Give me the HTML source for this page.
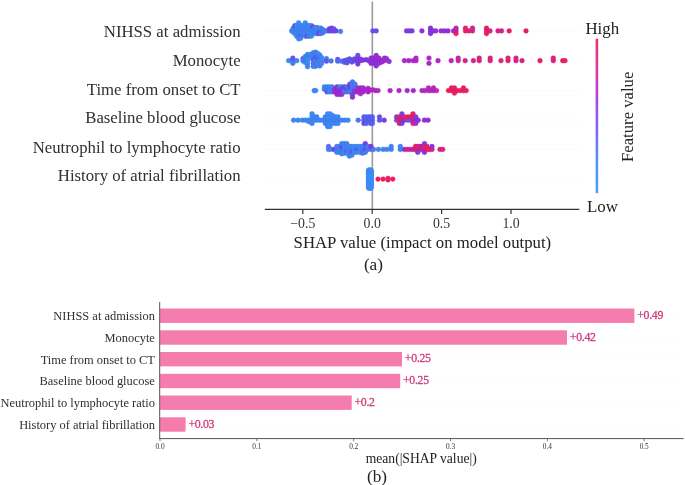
<!DOCTYPE html>
<html><head><meta charset="utf-8"><style>
html,body{margin:0;padding:0;background:#fff;width:685px;height:485px;overflow:hidden}
svg{display:block;font-family:"Liberation Serif", serif}
</style></head><body>
<svg width="685" height="485" viewBox="0 0 685 485">
<defs><linearGradient id="cb" x1="0" y1="1" x2="0" y2="0"><stop offset="0" stop-color="#4aa2f6"/><stop offset="0.22" stop-color="#5a8ef4"/><stop offset="0.45" stop-color="#8a62ea"/><stop offset="0.62" stop-color="#b244dc"/><stop offset="0.8" stop-color="#dc38a4"/><stop offset="1" stop-color="#ee3070"/></linearGradient><filter id="bl" x="-5%" y="-5%" width="110%" height="110%"><feGaussianBlur stdDeviation="0.2"/></filter><filter id="gb" x="0" y="0" width="685" height="485" filterUnits="userSpaceOnUse"><feGaussianBlur stdDeviation="0.4"/></filter></defs>
<rect width="685" height="485" fill="#fff"/>
<g filter="url(#gb)">
<line x1="265" y1="30.9" x2="580" y2="30.9" stroke="#e2e2e2" stroke-width="0.8" stroke-dasharray="0.8 3.2"/>
<line x1="265" y1="60.7" x2="580" y2="60.7" stroke="#e2e2e2" stroke-width="0.8" stroke-dasharray="0.8 3.2"/>
<line x1="265" y1="90.6" x2="580" y2="90.6" stroke="#e2e2e2" stroke-width="0.8" stroke-dasharray="0.8 3.2"/>
<line x1="265" y1="120.2" x2="580" y2="120.2" stroke="#e2e2e2" stroke-width="0.8" stroke-dasharray="0.8 3.2"/>
<line x1="265" y1="149.4" x2="580" y2="149.4" stroke="#e2e2e2" stroke-width="0.8" stroke-dasharray="0.8 3.2"/>
<line x1="265" y1="179.1" x2="580" y2="179.1" stroke="#e2e2e2" stroke-width="0.8" stroke-dasharray="0.8 3.2"/>
<line x1="372.35" y1="1.5" x2="372.35" y2="209.3" stroke="#999" stroke-width="1.6"/>
<g filter="url(#bl)"><circle cx="291.7" cy="30.9" r="2.40" fill="#3f88f5" stroke="#3777e1" stroke-width="0.4"/><circle cx="293.2" cy="30.9" r="2.40" fill="#3d8af5" stroke="#3579e1" stroke-width="0.4"/><circle cx="293.2" cy="28.2" r="2.40" fill="#4184f4" stroke="#3974e0" stroke-width="0.4"/><circle cx="293.2" cy="32.2" r="2.40" fill="#3d8bf5" stroke="#357ae1" stroke-width="0.4"/><circle cx="294.9" cy="30.9" r="2.40" fill="#4283f4" stroke="#3a73e0" stroke-width="0.4"/><circle cx="294.9" cy="28.2" r="2.40" fill="#4283f4" stroke="#3a73e0" stroke-width="0.4"/><circle cx="294.9" cy="33.5" r="2.40" fill="#4283f4" stroke="#3a73e0" stroke-width="0.4"/><circle cx="294.9" cy="25.6" r="2.40" fill="#7446e5" stroke="#663dd2" stroke-width="0.4"/><circle cx="296.6" cy="30.9" r="2.40" fill="#4085f4" stroke="#3875e0" stroke-width="0.4"/><circle cx="296.6" cy="28.2" r="2.40" fill="#3f87f4" stroke="#3776e0" stroke-width="0.4"/><circle cx="296.6" cy="33.5" r="2.40" fill="#3c8bf5" stroke="#347ae1" stroke-width="0.4"/><circle cx="296.6" cy="25.6" r="2.40" fill="#4086f4" stroke="#3875e0" stroke-width="0.4"/><circle cx="296.6" cy="36.2" r="2.40" fill="#3c8cf5" stroke="#347be1" stroke-width="0.4"/><circle cx="298.6" cy="30.9" r="2.40" fill="#3f87f4" stroke="#3776e0" stroke-width="0.4"/><circle cx="298.6" cy="28.2" r="2.40" fill="#3d8bf5" stroke="#357ae1" stroke-width="0.4"/><circle cx="298.6" cy="33.5" r="2.40" fill="#3d8bf5" stroke="#357ae1" stroke-width="0.4"/><circle cx="298.6" cy="25.6" r="2.40" fill="#3f87f4" stroke="#3776e0" stroke-width="0.4"/><circle cx="298.6" cy="36.2" r="2.40" fill="#4282f4" stroke="#3a72e0" stroke-width="0.4"/><circle cx="298.6" cy="22.9" r="2.40" fill="#3d8af5" stroke="#3579e1" stroke-width="0.4"/><circle cx="298.6" cy="38.8" r="2.40" fill="#3e89f5" stroke="#3678e1" stroke-width="0.4"/><circle cx="300.6" cy="30.9" r="2.40" fill="#4283f4" stroke="#3a73e0" stroke-width="0.4"/><circle cx="300.6" cy="28.2" r="2.40" fill="#4283f4" stroke="#3a73e0" stroke-width="0.4"/><circle cx="300.6" cy="33.5" r="2.40" fill="#4283f4" stroke="#3a73e0" stroke-width="0.4"/><circle cx="300.6" cy="25.6" r="2.40" fill="#4283f4" stroke="#3a73e0" stroke-width="0.4"/><circle cx="300.6" cy="36.2" r="2.40" fill="#6157ec" stroke="#554cd9" stroke-width="0.4"/><circle cx="300.6" cy="38.3" r="2.40" fill="#4283f4" stroke="#3a73e0" stroke-width="0.4"/><circle cx="302.8" cy="30.9" r="2.40" fill="#4184f4" stroke="#3974e0" stroke-width="0.4"/><circle cx="302.8" cy="28.2" r="2.40" fill="#4380f4" stroke="#3a70e0" stroke-width="0.4"/><circle cx="302.8" cy="33.5" r="2.40" fill="#4185f4" stroke="#3975e0" stroke-width="0.4"/><circle cx="302.8" cy="25.6" r="2.40" fill="#3f87f4" stroke="#3776e0" stroke-width="0.4"/><circle cx="305.2" cy="30.9" r="2.40" fill="#4480f4" stroke="#3b70e0" stroke-width="0.4"/><circle cx="305.2" cy="28.2" r="2.40" fill="#3c8bf5" stroke="#347ae1" stroke-width="0.4"/><circle cx="305.2" cy="33.5" r="2.40" fill="#4381f4" stroke="#3a71e0" stroke-width="0.4"/><circle cx="305.2" cy="25.6" r="2.40" fill="#3e88f5" stroke="#3677e1" stroke-width="0.4"/><circle cx="305.2" cy="36.2" r="2.40" fill="#3d8af5" stroke="#3579e1" stroke-width="0.4"/><circle cx="305.2" cy="22.9" r="2.40" fill="#3d8bf5" stroke="#357ae1" stroke-width="0.4"/><circle cx="307.2" cy="30.9" r="2.40" fill="#4283f4" stroke="#3a73e0" stroke-width="0.4"/><circle cx="307.2" cy="28.2" r="2.40" fill="#4283f4" stroke="#3a73e0" stroke-width="0.4"/><circle cx="307.2" cy="33.5" r="2.40" fill="#4283f4" stroke="#3a73e0" stroke-width="0.4"/><circle cx="307.2" cy="25.6" r="2.40" fill="#4283f4" stroke="#3a73e0" stroke-width="0.4"/><circle cx="307.2" cy="36.2" r="2.40" fill="#7446e5" stroke="#663dd2" stroke-width="0.4"/><circle cx="309.0" cy="30.9" r="2.40" fill="#3e88f5" stroke="#3677e1" stroke-width="0.4"/><circle cx="309.0" cy="28.2" r="2.40" fill="#4282f4" stroke="#3a72e0" stroke-width="0.4"/><circle cx="309.0" cy="33.5" r="2.40" fill="#3d8af5" stroke="#3579e1" stroke-width="0.4"/><circle cx="309.0" cy="25.6" r="2.40" fill="#4185f4" stroke="#3975e0" stroke-width="0.4"/><circle cx="309.0" cy="36.2" r="2.40" fill="#4184f4" stroke="#3974e0" stroke-width="0.4"/><circle cx="311.3" cy="30.9" r="2.40" fill="#3f87f4" stroke="#3776e0" stroke-width="0.4"/><circle cx="311.3" cy="28.2" r="2.40" fill="#4085f4" stroke="#3875e0" stroke-width="0.4"/><circle cx="311.3" cy="33.5" r="2.40" fill="#3c8bf5" stroke="#347ae1" stroke-width="0.4"/><circle cx="311.3" cy="25.6" r="2.40" fill="#3c8bf5" stroke="#347ae1" stroke-width="0.4"/><circle cx="311.3" cy="36.2" r="2.40" fill="#3e89f5" stroke="#3678e1" stroke-width="0.4"/><circle cx="313.0" cy="26.9" r="2.40" fill="#7446e5" stroke="#663dd2" stroke-width="0.4"/><circle cx="313.0" cy="30.9" r="2.40" fill="#4283f4" stroke="#3a73e0" stroke-width="0.4"/><circle cx="314.8" cy="30.9" r="2.40" fill="#4184f4" stroke="#3974e0" stroke-width="0.4"/><circle cx="314.8" cy="28.2" r="2.40" fill="#3f87f4" stroke="#3776e0" stroke-width="0.4"/><circle cx="314.8" cy="33.5" r="2.40" fill="#3e88f5" stroke="#3677e1" stroke-width="0.4"/><circle cx="316.8" cy="30.9" r="2.40" fill="#4185f4" stroke="#3975e0" stroke-width="0.4"/><circle cx="316.8" cy="27.5" r="2.40" fill="#4086f4" stroke="#3875e0" stroke-width="0.4"/><circle cx="316.8" cy="33.5" r="2.40" fill="#3e88f5" stroke="#3677e1" stroke-width="0.4"/><circle cx="318.8" cy="30.9" r="2.40" fill="#4283f4" stroke="#3a73e0" stroke-width="0.4"/><circle cx="318.8" cy="28.2" r="2.40" fill="#4283f4" stroke="#3a73e0" stroke-width="0.4"/><circle cx="318.8" cy="33.5" r="2.40" fill="#7446e5" stroke="#663dd2" stroke-width="0.4"/><circle cx="320.8" cy="30.9" r="2.40" fill="#6157ec" stroke="#554cd9" stroke-width="0.4"/><circle cx="320.8" cy="28.2" r="2.40" fill="#4283f4" stroke="#3a73e0" stroke-width="0.4"/><circle cx="320.8" cy="33.5" r="2.40" fill="#477af3" stroke="#3e6bdf" stroke-width="0.4"/><circle cx="322.8" cy="29.6" r="2.40" fill="#477af3" stroke="#3e6bdf" stroke-width="0.4"/><circle cx="322.8" cy="32.8" r="2.40" fill="#4d72f2" stroke="#4364de" stroke-width="0.4"/><circle cx="325.0" cy="30.9" r="2.40" fill="#4282f4" stroke="#3a72e0" stroke-width="0.4"/><circle cx="327.0" cy="30.9" r="2.40" fill="#4183f4" stroke="#3973e0" stroke-width="0.4"/><circle cx="329.3" cy="30.9" r="2.40" fill="#6b4ee9" stroke="#5e44d6" stroke-width="0.4"/><circle cx="329.3" cy="28.8" r="2.40" fill="#7e3de2" stroke="#6e35cf" stroke-width="0.4"/><circle cx="331.6" cy="30.9" r="2.40" fill="#7446e5" stroke="#663dd2" stroke-width="0.4"/><circle cx="331.6" cy="28.2" r="2.40" fill="#7e3de2" stroke="#6e35cf" stroke-width="0.4"/><circle cx="333.9" cy="30.9" r="2.40" fill="#7446e5" stroke="#663dd2" stroke-width="0.4"/><circle cx="333.9" cy="29.0" r="2.40" fill="#6b4ee9" stroke="#5e44d6" stroke-width="0.4"/><circle cx="336.0" cy="30.9" r="2.40" fill="#7446e5" stroke="#663dd2" stroke-width="0.4"/><circle cx="340.5" cy="31.4" r="2.40" fill="#457ef3" stroke="#3c6edf" stroke-width="0.4"/><circle cx="372.8" cy="30.9" r="2.40" fill="#6157ec" stroke="#554cd9" stroke-width="0.4"/><circle cx="376.2" cy="30.9" r="2.40" fill="#6b4ee9" stroke="#5e44d6" stroke-width="0.4"/><circle cx="406.5" cy="30.9" r="2.40" fill="#7e3de2" stroke="#6e35cf" stroke-width="0.4"/><circle cx="409.2" cy="30.9" r="2.40" fill="#7e3de2" stroke="#6e35cf" stroke-width="0.4"/><circle cx="412.0" cy="30.9" r="2.40" fill="#7e3de2" stroke="#6e35cf" stroke-width="0.4"/><circle cx="421.9" cy="30.9" r="2.40" fill="#8734de" stroke="#762dcc" stroke-width="0.4"/><circle cx="430.5" cy="30.9" r="2.40" fill="#8734de" stroke="#762dcc" stroke-width="0.4"/><circle cx="430.5" cy="28.2" r="2.40" fill="#8734de" stroke="#762dcc" stroke-width="0.4"/><circle cx="430.5" cy="33.5" r="2.40" fill="#8734de" stroke="#762dcc" stroke-width="0.4"/><circle cx="433.2" cy="30.9" r="2.40" fill="#8734de" stroke="#762dcc" stroke-width="0.4"/><circle cx="435.8" cy="30.9" r="2.40" fill="#9230d8" stroke="#802ac6" stroke-width="0.4"/><circle cx="441.0" cy="30.9" r="2.40" fill="#9230d8" stroke="#802ac6" stroke-width="0.4"/><circle cx="444.5" cy="30.9" r="2.40" fill="#9230d8" stroke="#802ac6" stroke-width="0.4"/><circle cx="448.0" cy="30.9" r="2.40" fill="#9e2dd3" stroke="#8b27c2" stroke-width="0.4"/><circle cx="453.5" cy="30.9" r="2.40" fill="#a929ce" stroke="#9424bd" stroke-width="0.4"/><circle cx="456.0" cy="30.9" r="2.40" fill="#b426c8" stroke="#9e21b8" stroke-width="0.4"/><circle cx="456.0" cy="28.2" r="2.40" fill="#c025b4" stroke="#a820a5" stroke-width="0.4"/><circle cx="456.0" cy="33.5" r="2.40" fill="#e92067" stroke="#cd1c5e" stroke-width="0.4"/><circle cx="465.5" cy="30.9" r="2.40" fill="#e92067" stroke="#cd1c5e" stroke-width="0.4"/><circle cx="465.5" cy="28.2" r="2.40" fill="#e92067" stroke="#cd1c5e" stroke-width="0.4"/><circle cx="469.0" cy="30.9" r="2.40" fill="#e02279" stroke="#c51d6f" stroke-width="0.4"/><circle cx="472.5" cy="30.9" r="2.40" fill="#d7248c" stroke="#bd1f80" stroke-width="0.4"/><circle cx="472.5" cy="28.2" r="2.40" fill="#d7248c" stroke="#bd1f80" stroke-width="0.4"/><circle cx="486.5" cy="30.9" r="2.40" fill="#ed1f5f" stroke="#d01b57" stroke-width="0.4"/><circle cx="486.5" cy="28.2" r="2.40" fill="#ed1f5f" stroke="#d01b57" stroke-width="0.4"/><circle cx="486.5" cy="33.5" r="2.40" fill="#ed1f5f" stroke="#d01b57" stroke-width="0.4"/><circle cx="490.0" cy="30.9" r="2.40" fill="#d7248c" stroke="#bd1f80" stroke-width="0.4"/><circle cx="498.0" cy="30.9" r="2.40" fill="#d7248c" stroke="#bd1f80" stroke-width="0.4"/><circle cx="501.5" cy="30.9" r="2.40" fill="#d7248c" stroke="#bd1f80" stroke-width="0.4"/><circle cx="509.2" cy="30.9" r="2.40" fill="#ed1f5f" stroke="#d01b57" stroke-width="0.4"/><circle cx="526.0" cy="30.9" r="2.40" fill="#ed1f5f" stroke="#d01b57" stroke-width="0.4"/><circle cx="288.7" cy="60.7" r="2.40" fill="#3e89f5" stroke="#3678e1" stroke-width="0.4"/><circle cx="292.8" cy="60.7" r="2.40" fill="#477af3" stroke="#3e6bdf" stroke-width="0.4"/><circle cx="292.8" cy="58.1" r="2.40" fill="#6157ec" stroke="#554cd9" stroke-width="0.4"/><circle cx="292.8" cy="63.3" r="2.40" fill="#477af3" stroke="#3e6bdf" stroke-width="0.4"/><circle cx="296.8" cy="60.7" r="2.40" fill="#4185f4" stroke="#3975e0" stroke-width="0.4"/><circle cx="303.0" cy="58.6" r="2.40" fill="#6157ec" stroke="#554cd9" stroke-width="0.4"/><circle cx="303.0" cy="61.0" r="2.40" fill="#4283f4" stroke="#3a73e0" stroke-width="0.4"/><circle cx="305.3" cy="56.5" r="2.40" fill="#4086f4" stroke="#3875e0" stroke-width="0.4"/><circle cx="305.3" cy="59.5" r="2.40" fill="#4381f4" stroke="#3a71e0" stroke-width="0.4"/><circle cx="305.3" cy="62.5" r="2.40" fill="#4283f4" stroke="#3a73e0" stroke-width="0.4"/><circle cx="307.5" cy="54.5" r="2.40" fill="#3e88f5" stroke="#3677e1" stroke-width="0.4"/><circle cx="307.5" cy="57.3" r="2.40" fill="#4480f4" stroke="#3b70e0" stroke-width="0.4"/><circle cx="307.5" cy="60.2" r="2.40" fill="#3d8bf5" stroke="#357ae1" stroke-width="0.4"/><circle cx="307.5" cy="63.3" r="2.40" fill="#3f87f4" stroke="#3776e0" stroke-width="0.4"/><circle cx="307.5" cy="66.7" r="2.40" fill="#4283f4" stroke="#3a73e0" stroke-width="0.4"/><circle cx="310.2" cy="57.3" r="2.40" fill="#3d8af5" stroke="#3579e1" stroke-width="0.4"/><circle cx="310.2" cy="54.5" r="2.40" fill="#4086f4" stroke="#3875e0" stroke-width="0.4"/><circle cx="313.2" cy="52.9" r="2.40" fill="#4283f4" stroke="#3a73e0" stroke-width="0.4"/><circle cx="313.2" cy="55.5" r="2.40" fill="#4283f4" stroke="#3a73e0" stroke-width="0.4"/><circle cx="313.2" cy="58.1" r="2.40" fill="#4283f4" stroke="#3a73e0" stroke-width="0.4"/><circle cx="313.2" cy="60.7" r="2.40" fill="#6157ec" stroke="#554cd9" stroke-width="0.4"/><circle cx="313.2" cy="63.6" r="2.40" fill="#4283f4" stroke="#3a73e0" stroke-width="0.4"/><circle cx="313.2" cy="66.4" r="2.40" fill="#4283f4" stroke="#3a73e0" stroke-width="0.4"/><circle cx="315.4" cy="52.1" r="2.40" fill="#4283f4" stroke="#3a73e0" stroke-width="0.4"/><circle cx="315.4" cy="55.0" r="2.40" fill="#4283f4" stroke="#3a73e0" stroke-width="0.4"/><circle cx="315.4" cy="57.8" r="2.40" fill="#6b4ee9" stroke="#5e44d6" stroke-width="0.4"/><circle cx="315.4" cy="60.7" r="2.40" fill="#4283f4" stroke="#3a73e0" stroke-width="0.4"/><circle cx="315.4" cy="63.6" r="2.40" fill="#477af3" stroke="#3e6bdf" stroke-width="0.4"/><circle cx="315.4" cy="66.4" r="2.40" fill="#4283f4" stroke="#3a73e0" stroke-width="0.4"/><circle cx="317.6" cy="53.4" r="2.40" fill="#4283f4" stroke="#3a73e0" stroke-width="0.4"/><circle cx="317.6" cy="56.3" r="2.40" fill="#4283f4" stroke="#3a73e0" stroke-width="0.4"/><circle cx="317.6" cy="59.1" r="2.40" fill="#6157ec" stroke="#554cd9" stroke-width="0.4"/><circle cx="317.6" cy="62.0" r="2.40" fill="#4283f4" stroke="#3a73e0" stroke-width="0.4"/><circle cx="317.6" cy="64.9" r="2.40" fill="#4283f4" stroke="#3a73e0" stroke-width="0.4"/><circle cx="319.8" cy="55.0" r="2.40" fill="#3c8cf5" stroke="#347be1" stroke-width="0.4"/><circle cx="319.8" cy="57.8" r="2.40" fill="#4184f4" stroke="#3974e0" stroke-width="0.4"/><circle cx="319.8" cy="60.7" r="2.40" fill="#4283f4" stroke="#3a73e0" stroke-width="0.4"/><circle cx="319.8" cy="63.6" r="2.40" fill="#4085f4" stroke="#3875e0" stroke-width="0.4"/><circle cx="319.8" cy="65.9" r="2.40" fill="#4381f4" stroke="#3a71e0" stroke-width="0.4"/><circle cx="321.6" cy="57.6" r="2.40" fill="#3e88f5" stroke="#3677e1" stroke-width="0.4"/><circle cx="321.6" cy="60.7" r="2.40" fill="#4183f4" stroke="#3973e0" stroke-width="0.4"/><circle cx="321.6" cy="63.6" r="2.40" fill="#4185f4" stroke="#3975e0" stroke-width="0.4"/><circle cx="326.4" cy="58.6" r="2.40" fill="#457ef3" stroke="#3c6edf" stroke-width="0.4"/><circle cx="326.4" cy="61.2" r="2.40" fill="#6157ec" stroke="#554cd9" stroke-width="0.4"/><circle cx="331.1" cy="61.0" r="2.40" fill="#477af3" stroke="#3e6bdf" stroke-width="0.4"/><circle cx="337.7" cy="59.4" r="2.40" fill="#6157ec" stroke="#554cd9" stroke-width="0.4"/><circle cx="337.7" cy="61.2" r="2.40" fill="#5269f1" stroke="#485cdd" stroke-width="0.4"/><circle cx="341.3" cy="61.2" r="2.40" fill="#477af3" stroke="#3e6bdf" stroke-width="0.4"/><circle cx="344.5" cy="60.7" r="2.40" fill="#5e5bee" stroke="#5250da" stroke-width="0.4"/><circle cx="344.5" cy="62.3" r="2.40" fill="#5e5bee" stroke="#5250da" stroke-width="0.4"/><circle cx="347.0" cy="59.9" r="2.40" fill="#6157ec" stroke="#554cd9" stroke-width="0.4"/><circle cx="347.0" cy="62.8" r="2.40" fill="#6157ec" stroke="#554cd9" stroke-width="0.4"/><circle cx="349.5" cy="60.7" r="2.40" fill="#6157ec" stroke="#554cd9" stroke-width="0.4"/><circle cx="349.5" cy="58.9" r="2.40" fill="#6157ec" stroke="#554cd9" stroke-width="0.4"/><circle cx="352.0" cy="60.2" r="2.40" fill="#6554eb" stroke="#5849d8" stroke-width="0.4"/><circle cx="352.0" cy="62.0" r="2.40" fill="#6554eb" stroke="#5849d8" stroke-width="0.4"/><circle cx="354.5" cy="60.7" r="2.40" fill="#6b4ee9" stroke="#5e44d6" stroke-width="0.4"/><circle cx="354.5" cy="58.9" r="2.40" fill="#6b4ee9" stroke="#5e44d6" stroke-width="0.4"/><circle cx="357.8" cy="60.7" r="2.40" fill="#7446e5" stroke="#663dd2" stroke-width="0.4"/><circle cx="357.8" cy="58.1" r="2.40" fill="#7e3de2" stroke="#6e35cf" stroke-width="0.4"/><circle cx="357.8" cy="55.5" r="2.40" fill="#7446e5" stroke="#663dd2" stroke-width="0.4"/><circle cx="357.8" cy="64.1" r="2.40" fill="#8734de" stroke="#762dcc" stroke-width="0.4"/><circle cx="360.5" cy="60.7" r="2.40" fill="#7e3de2" stroke="#6e35cf" stroke-width="0.4"/><circle cx="360.5" cy="59.1" r="2.40" fill="#7e3de2" stroke="#6e35cf" stroke-width="0.4"/><circle cx="363.0" cy="60.2" r="2.40" fill="#7e3de2" stroke="#6e35cf" stroke-width="0.4"/><circle cx="366.0" cy="59.7" r="2.40" fill="#8734de" stroke="#762dcc" stroke-width="0.4"/><circle cx="368.5" cy="60.7" r="2.40" fill="#8734de" stroke="#762dcc" stroke-width="0.4"/><circle cx="371.0" cy="60.7" r="2.40" fill="#9230d8" stroke="#802ac6" stroke-width="0.4"/><circle cx="371.0" cy="58.1" r="2.40" fill="#9230d8" stroke="#802ac6" stroke-width="0.4"/><circle cx="371.0" cy="63.3" r="2.40" fill="#9230d8" stroke="#802ac6" stroke-width="0.4"/><circle cx="373.5" cy="60.7" r="2.40" fill="#8734de" stroke="#762dcc" stroke-width="0.4"/><circle cx="373.5" cy="58.1" r="2.40" fill="#8734de" stroke="#762dcc" stroke-width="0.4"/><circle cx="373.5" cy="63.3" r="2.40" fill="#8734de" stroke="#762dcc" stroke-width="0.4"/><circle cx="376.2" cy="60.7" r="2.40" fill="#9230d8" stroke="#802ac6" stroke-width="0.4"/><circle cx="376.2" cy="58.1" r="2.40" fill="#9230d8" stroke="#802ac6" stroke-width="0.4"/><circle cx="376.2" cy="63.3" r="2.40" fill="#9230d8" stroke="#802ac6" stroke-width="0.4"/><circle cx="376.2" cy="55.5" r="2.40" fill="#9230d8" stroke="#802ac6" stroke-width="0.4"/><circle cx="376.2" cy="65.9" r="2.40" fill="#9230d8" stroke="#802ac6" stroke-width="0.4"/><circle cx="379.0" cy="60.7" r="2.40" fill="#9e2dd3" stroke="#8b27c2" stroke-width="0.4"/><circle cx="379.0" cy="58.1" r="2.40" fill="#9e2dd3" stroke="#8b27c2" stroke-width="0.4"/><circle cx="379.0" cy="63.3" r="2.40" fill="#9e2dd3" stroke="#8b27c2" stroke-width="0.4"/><circle cx="381.9" cy="60.7" r="2.40" fill="#9e2dd3" stroke="#8b27c2" stroke-width="0.4"/><circle cx="381.9" cy="62.0" r="2.40" fill="#9e2dd3" stroke="#8b27c2" stroke-width="0.4"/><circle cx="384.5" cy="60.7" r="2.40" fill="#a22cd1" stroke="#8e26c0" stroke-width="0.4"/><circle cx="384.5" cy="58.1" r="2.40" fill="#a22cd1" stroke="#8e26c0" stroke-width="0.4"/><circle cx="386.5" cy="58.6" r="2.40" fill="#9e2dd3" stroke="#8b27c2" stroke-width="0.4"/><circle cx="389.1" cy="61.5" r="2.40" fill="#9230d8" stroke="#802ac6" stroke-width="0.4"/><circle cx="404.4" cy="60.7" r="2.40" fill="#a929ce" stroke="#9424bd" stroke-width="0.4"/><circle cx="408.8" cy="60.7" r="2.40" fill="#b027ca" stroke="#9a22b9" stroke-width="0.4"/><circle cx="413.2" cy="60.7" r="2.40" fill="#b027ca" stroke="#9a22b9" stroke-width="0.4"/><circle cx="416.0" cy="60.7" r="2.40" fill="#b426c8" stroke="#9e21b8" stroke-width="0.4"/><circle cx="416.0" cy="58.1" r="2.40" fill="#b426c8" stroke="#9e21b8" stroke-width="0.4"/><circle cx="429.0" cy="58.1" r="2.40" fill="#b027ca" stroke="#9a22b9" stroke-width="0.4"/><circle cx="429.0" cy="63.3" r="2.40" fill="#b027ca" stroke="#9a22b9" stroke-width="0.4"/><circle cx="438.0" cy="60.7" r="2.40" fill="#b426c8" stroke="#9e21b8" stroke-width="0.4"/><circle cx="451.2" cy="60.7" r="2.40" fill="#b926c0" stroke="#a221b0" stroke-width="0.4"/><circle cx="458.2" cy="60.7" r="2.40" fill="#cb25a0" stroke="#b22093" stroke-width="0.4"/><circle cx="458.2" cy="58.1" r="2.40" fill="#cb25a0" stroke="#b22093" stroke-width="0.4"/><circle cx="465.2" cy="60.7" r="2.40" fill="#d7248c" stroke="#bd1f80" stroke-width="0.4"/><circle cx="473.4" cy="60.7" r="2.40" fill="#d7248c" stroke="#bd1f80" stroke-width="0.4"/><circle cx="479.2" cy="60.7" r="2.40" fill="#dc2381" stroke="#c11e76" stroke-width="0.4"/><circle cx="479.2" cy="58.1" r="2.40" fill="#dc2381" stroke="#c11e76" stroke-width="0.4"/><circle cx="490.2" cy="60.7" r="2.40" fill="#dc2381" stroke="#c11e76" stroke-width="0.4"/><circle cx="490.2" cy="58.1" r="2.40" fill="#dc2381" stroke="#c11e76" stroke-width="0.4"/><circle cx="501.0" cy="60.7" r="2.40" fill="#e02279" stroke="#c51d6f" stroke-width="0.4"/><circle cx="508.0" cy="60.7" r="2.40" fill="#e42172" stroke="#c81d68" stroke-width="0.4"/><circle cx="508.0" cy="58.1" r="2.40" fill="#e42172" stroke="#c81d68" stroke-width="0.4"/><circle cx="516.0" cy="60.7" r="2.40" fill="#d7248c" stroke="#bd1f80" stroke-width="0.4"/><circle cx="516.0" cy="58.1" r="2.40" fill="#d7248c" stroke="#bd1f80" stroke-width="0.4"/><circle cx="522.0" cy="60.7" r="2.40" fill="#dc2381" stroke="#c11e76" stroke-width="0.4"/><circle cx="540.0" cy="60.7" r="2.40" fill="#e92067" stroke="#cd1c5e" stroke-width="0.4"/><circle cx="553.3" cy="60.7" r="2.40" fill="#e02279" stroke="#c51d6f" stroke-width="0.4"/><circle cx="553.3" cy="58.1" r="2.40" fill="#e02279" stroke="#c51d6f" stroke-width="0.4"/><circle cx="562.7" cy="60.7" r="2.40" fill="#e92067" stroke="#cd1c5e" stroke-width="0.4"/><circle cx="565.0" cy="60.7" r="2.40" fill="#e92067" stroke="#cd1c5e" stroke-width="0.4"/><circle cx="314.2" cy="90.6" r="2.40" fill="#4185f4" stroke="#3975e0" stroke-width="0.4"/><circle cx="315.7" cy="90.6" r="2.40" fill="#4086f4" stroke="#3875e0" stroke-width="0.4"/><circle cx="324.4" cy="89.3" r="2.40" fill="#4382f4" stroke="#3a72e0" stroke-width="0.4"/><circle cx="324.4" cy="86.8" r="2.40" fill="#4380f4" stroke="#3a70e0" stroke-width="0.4"/><circle cx="327.0" cy="89.3" r="2.40" fill="#4283f4" stroke="#3a73e0" stroke-width="0.4"/><circle cx="327.0" cy="86.8" r="2.40" fill="#4283f4" stroke="#3a73e0" stroke-width="0.4"/><circle cx="327.0" cy="91.9" r="2.40" fill="#6157ec" stroke="#554cd9" stroke-width="0.4"/><circle cx="329.5" cy="89.3" r="2.40" fill="#4086f4" stroke="#3875e0" stroke-width="0.4"/><circle cx="329.5" cy="86.8" r="2.40" fill="#4184f4" stroke="#3974e0" stroke-width="0.4"/><circle cx="329.5" cy="91.9" r="2.40" fill="#3c8bf5" stroke="#347ae1" stroke-width="0.4"/><circle cx="332.2" cy="89.3" r="2.40" fill="#4183f4" stroke="#3973e0" stroke-width="0.4"/><circle cx="332.2" cy="86.8" r="2.40" fill="#4184f4" stroke="#3974e0" stroke-width="0.4"/><circle cx="332.2" cy="91.9" r="2.40" fill="#4480f4" stroke="#3b70e0" stroke-width="0.4"/><circle cx="334.5" cy="89.3" r="2.40" fill="#9e2dd3" stroke="#8b27c2" stroke-width="0.4"/><circle cx="334.5" cy="91.9" r="2.40" fill="#a929ce" stroke="#9424bd" stroke-width="0.4"/><circle cx="337.0" cy="89.3" r="2.40" fill="#9230d8" stroke="#802ac6" stroke-width="0.4"/><circle cx="337.0" cy="86.8" r="2.40" fill="#9e2dd3" stroke="#8b27c2" stroke-width="0.4"/><circle cx="337.0" cy="91.9" r="2.40" fill="#8734de" stroke="#762dcc" stroke-width="0.4"/><circle cx="337.0" cy="94.4" r="2.40" fill="#9e2dd3" stroke="#8b27c2" stroke-width="0.4"/><circle cx="339.5" cy="89.3" r="2.40" fill="#8734de" stroke="#762dcc" stroke-width="0.4"/><circle cx="339.5" cy="86.8" r="2.40" fill="#477af3" stroke="#3e6bdf" stroke-width="0.4"/><circle cx="339.5" cy="91.9" r="2.40" fill="#9230d8" stroke="#802ac6" stroke-width="0.4"/><circle cx="339.5" cy="94.4" r="2.40" fill="#9e2dd3" stroke="#8b27c2" stroke-width="0.4"/><circle cx="341.8" cy="86.8" r="2.40" fill="#4283f4" stroke="#3a73e0" stroke-width="0.4"/><circle cx="341.8" cy="89.3" r="2.40" fill="#7e3de2" stroke="#6e35cf" stroke-width="0.4"/><circle cx="341.8" cy="91.9" r="2.40" fill="#a929ce" stroke="#9424bd" stroke-width="0.4"/><circle cx="341.8" cy="94.4" r="2.40" fill="#a929ce" stroke="#9424bd" stroke-width="0.4"/><circle cx="344.5" cy="89.3" r="2.40" fill="#477af3" stroke="#3e6bdf" stroke-width="0.4"/><circle cx="344.5" cy="86.8" r="2.40" fill="#7e3de2" stroke="#6e35cf" stroke-width="0.4"/><circle cx="344.5" cy="91.9" r="2.40" fill="#477af3" stroke="#3e6bdf" stroke-width="0.4"/><circle cx="347.0" cy="89.3" r="2.40" fill="#8734de" stroke="#762dcc" stroke-width="0.4"/><circle cx="347.0" cy="86.8" r="2.40" fill="#477af3" stroke="#3e6bdf" stroke-width="0.4"/><circle cx="347.0" cy="91.9" r="2.40" fill="#4d72f2" stroke="#4364de" stroke-width="0.4"/><circle cx="349.8" cy="89.3" r="2.40" fill="#477af3" stroke="#3e6bdf" stroke-width="0.4"/><circle cx="349.8" cy="86.8" r="2.40" fill="#7e3de2" stroke="#6e35cf" stroke-width="0.4"/><circle cx="349.8" cy="91.9" r="2.40" fill="#477af3" stroke="#3e6bdf" stroke-width="0.4"/><circle cx="349.8" cy="84.2" r="2.40" fill="#7446e5" stroke="#663dd2" stroke-width="0.4"/><circle cx="352.5" cy="89.6" r="2.40" fill="#477af3" stroke="#3e6bdf" stroke-width="0.4"/><circle cx="352.5" cy="87.0" r="2.40" fill="#477af3" stroke="#3e6bdf" stroke-width="0.4"/><circle cx="352.5" cy="92.1" r="2.40" fill="#477af3" stroke="#3e6bdf" stroke-width="0.4"/><circle cx="352.5" cy="84.5" r="2.40" fill="#4283f4" stroke="#3a73e0" stroke-width="0.4"/><circle cx="352.5" cy="94.7" r="2.40" fill="#7e3de2" stroke="#6e35cf" stroke-width="0.4"/><circle cx="352.5" cy="81.9" r="2.40" fill="#477af3" stroke="#3e6bdf" stroke-width="0.4"/><circle cx="352.5" cy="97.2" r="2.40" fill="#8734de" stroke="#762dcc" stroke-width="0.4"/><circle cx="355.0" cy="89.3" r="2.40" fill="#9e2dd3" stroke="#8b27c2" stroke-width="0.4"/><circle cx="355.0" cy="86.8" r="2.40" fill="#4d72f2" stroke="#4364de" stroke-width="0.4"/><circle cx="355.0" cy="91.9" r="2.40" fill="#9230d8" stroke="#802ac6" stroke-width="0.4"/><circle cx="355.0" cy="84.2" r="2.40" fill="#477af3" stroke="#3e6bdf" stroke-width="0.4"/><circle cx="358.0" cy="88.0" r="2.40" fill="#a929ce" stroke="#9424bd" stroke-width="0.4"/><circle cx="358.0" cy="92.1" r="2.40" fill="#a929ce" stroke="#9424bd" stroke-width="0.4"/><circle cx="360.5" cy="88.0" r="2.40" fill="#a929ce" stroke="#9424bd" stroke-width="0.4"/><circle cx="360.5" cy="92.1" r="2.40" fill="#a929ce" stroke="#9424bd" stroke-width="0.4"/><circle cx="360.5" cy="93.7" r="2.40" fill="#a929ce" stroke="#9424bd" stroke-width="0.4"/><circle cx="363.0" cy="87.8" r="2.40" fill="#b027ca" stroke="#9a22b9" stroke-width="0.4"/><circle cx="363.0" cy="91.9" r="2.40" fill="#b027ca" stroke="#9a22b9" stroke-width="0.4"/><circle cx="365.5" cy="90.1" r="2.40" fill="#a929ce" stroke="#9424bd" stroke-width="0.4"/><circle cx="368.0" cy="88.3" r="2.40" fill="#b027ca" stroke="#9a22b9" stroke-width="0.4"/><circle cx="368.0" cy="91.9" r="2.40" fill="#b027ca" stroke="#9a22b9" stroke-width="0.4"/><circle cx="370.5" cy="90.1" r="2.40" fill="#b027ca" stroke="#9a22b9" stroke-width="0.4"/><circle cx="373.0" cy="89.8" r="2.40" fill="#b027ca" stroke="#9a22b9" stroke-width="0.4"/><circle cx="375.5" cy="90.6" r="2.40" fill="#b426c8" stroke="#9e21b8" stroke-width="0.4"/><circle cx="378.0" cy="90.6" r="2.40" fill="#b426c8" stroke="#9e21b8" stroke-width="0.4"/><circle cx="390.1" cy="90.6" r="2.40" fill="#b027ca" stroke="#9a22b9" stroke-width="0.4"/><circle cx="399.0" cy="90.6" r="2.40" fill="#b027ca" stroke="#9a22b9" stroke-width="0.4"/><circle cx="407.2" cy="90.6" r="2.40" fill="#9e2dd3" stroke="#8b27c2" stroke-width="0.4"/><circle cx="413.3" cy="90.6" r="2.40" fill="#a22cd1" stroke="#8e26c0" stroke-width="0.4"/><circle cx="422.0" cy="90.6" r="2.40" fill="#b426c8" stroke="#9e21b8" stroke-width="0.4"/><circle cx="425.0" cy="90.6" r="2.40" fill="#b426c8" stroke="#9e21b8" stroke-width="0.4"/><circle cx="428.5" cy="90.6" r="2.40" fill="#b926c0" stroke="#a221b0" stroke-width="0.4"/><circle cx="428.5" cy="88.0" r="2.40" fill="#b926c0" stroke="#a221b0" stroke-width="0.4"/><circle cx="431.0" cy="90.6" r="2.40" fill="#b926c0" stroke="#a221b0" stroke-width="0.4"/><circle cx="433.5" cy="90.6" r="2.40" fill="#c025b4" stroke="#a820a5" stroke-width="0.4"/><circle cx="433.5" cy="88.0" r="2.40" fill="#c025b4" stroke="#a820a5" stroke-width="0.4"/><circle cx="436.5" cy="90.6" r="2.40" fill="#b926c0" stroke="#a221b0" stroke-width="0.4"/><circle cx="448.5" cy="90.6" r="2.40" fill="#ed1f5f" stroke="#d01b57" stroke-width="0.4"/><circle cx="451.5" cy="90.6" r="2.40" fill="#ed1f5f" stroke="#d01b57" stroke-width="0.4"/><circle cx="451.5" cy="88.0" r="2.40" fill="#ed1f5f" stroke="#d01b57" stroke-width="0.4"/><circle cx="454.5" cy="90.6" r="2.40" fill="#ed1f5f" stroke="#d01b57" stroke-width="0.4"/><circle cx="454.5" cy="88.0" r="2.40" fill="#ed1f5f" stroke="#d01b57" stroke-width="0.4"/><circle cx="454.5" cy="93.1" r="2.40" fill="#ed1f5f" stroke="#d01b57" stroke-width="0.4"/><circle cx="457.5" cy="90.6" r="2.40" fill="#ed1f5f" stroke="#d01b57" stroke-width="0.4"/><circle cx="460.5" cy="90.6" r="2.40" fill="#e92067" stroke="#cd1c5e" stroke-width="0.4"/><circle cx="463.5" cy="90.6" r="2.40" fill="#ed1f5f" stroke="#d01b57" stroke-width="0.4"/><circle cx="463.5" cy="88.0" r="2.40" fill="#ed1f5f" stroke="#d01b57" stroke-width="0.4"/><circle cx="466.2" cy="90.6" r="2.40" fill="#e92067" stroke="#cd1c5e" stroke-width="0.4"/><circle cx="293.6" cy="120.2" r="2.40" fill="#4282f4" stroke="#3a72e0" stroke-width="0.4"/><circle cx="298.0" cy="120.2" r="2.40" fill="#3e88f5" stroke="#3677e1" stroke-width="0.4"/><circle cx="302.4" cy="120.2" r="2.40" fill="#3f87f4" stroke="#3776e0" stroke-width="0.4"/><circle cx="305.6" cy="120.2" r="2.40" fill="#4184f4" stroke="#3974e0" stroke-width="0.4"/><circle cx="308.6" cy="120.2" r="2.40" fill="#3c8cf5" stroke="#347be1" stroke-width="0.4"/><circle cx="308.6" cy="121.5" r="2.40" fill="#4086f4" stroke="#3875e0" stroke-width="0.4"/><circle cx="312.0" cy="120.2" r="2.40" fill="#3d8af5" stroke="#3579e1" stroke-width="0.4"/><circle cx="312.0" cy="117.0" r="2.40" fill="#3d8bf5" stroke="#357ae1" stroke-width="0.4"/><circle cx="312.0" cy="113.8" r="2.40" fill="#3c8bf5" stroke="#347ae1" stroke-width="0.4"/><circle cx="312.0" cy="123.4" r="2.40" fill="#4283f4" stroke="#3a73e0" stroke-width="0.4"/><circle cx="314.5" cy="120.2" r="2.40" fill="#3d8af5" stroke="#3579e1" stroke-width="0.4"/><circle cx="314.5" cy="117.0" r="2.40" fill="#3e89f5" stroke="#3678e1" stroke-width="0.4"/><circle cx="316.8" cy="120.2" r="2.40" fill="#3f87f4" stroke="#3776e0" stroke-width="0.4"/><circle cx="316.8" cy="117.0" r="2.40" fill="#4381f4" stroke="#3a71e0" stroke-width="0.4"/><circle cx="319.5" cy="120.2" r="2.40" fill="#3d8bf5" stroke="#357ae1" stroke-width="0.4"/><circle cx="322.2" cy="120.2" r="2.40" fill="#4086f4" stroke="#3875e0" stroke-width="0.4"/><circle cx="325.3" cy="120.2" r="2.40" fill="#4085f4" stroke="#3875e0" stroke-width="0.4"/><circle cx="325.3" cy="117.0" r="2.40" fill="#4381f4" stroke="#3a71e0" stroke-width="0.4"/><circle cx="325.3" cy="123.4" r="2.40" fill="#4282f4" stroke="#3a72e0" stroke-width="0.4"/><circle cx="327.6" cy="120.2" r="2.40" fill="#4381f4" stroke="#3a71e0" stroke-width="0.4"/><circle cx="327.6" cy="117.0" r="2.40" fill="#3e89f5" stroke="#3678e1" stroke-width="0.4"/><circle cx="327.6" cy="123.4" r="2.40" fill="#3f87f4" stroke="#3776e0" stroke-width="0.4"/><circle cx="327.6" cy="113.8" r="2.40" fill="#3f88f4" stroke="#3777e0" stroke-width="0.4"/><circle cx="327.6" cy="126.6" r="2.40" fill="#4381f4" stroke="#3a71e0" stroke-width="0.4"/><circle cx="330.0" cy="120.2" r="2.40" fill="#4480f4" stroke="#3b70e0" stroke-width="0.4"/><circle cx="330.0" cy="117.0" r="2.40" fill="#3d8af5" stroke="#3579e1" stroke-width="0.4"/><circle cx="330.0" cy="123.4" r="2.40" fill="#3d8af5" stroke="#3579e1" stroke-width="0.4"/><circle cx="330.0" cy="113.8" r="2.40" fill="#3e89f5" stroke="#3678e1" stroke-width="0.4"/><circle cx="330.0" cy="126.6" r="2.40" fill="#3e89f5" stroke="#3678e1" stroke-width="0.4"/><circle cx="332.5" cy="120.2" r="2.40" fill="#4086f4" stroke="#3875e0" stroke-width="0.4"/><circle cx="332.5" cy="117.0" r="2.40" fill="#4185f4" stroke="#3975e0" stroke-width="0.4"/><circle cx="332.5" cy="123.4" r="2.40" fill="#3e89f5" stroke="#3678e1" stroke-width="0.4"/><circle cx="332.5" cy="115.4" r="2.40" fill="#3c8cf5" stroke="#347be1" stroke-width="0.4"/><circle cx="335.4" cy="120.2" r="2.40" fill="#3f87f4" stroke="#3776e0" stroke-width="0.4"/><circle cx="335.4" cy="117.0" r="2.40" fill="#3f87f4" stroke="#3776e0" stroke-width="0.4"/><circle cx="335.4" cy="123.4" r="2.40" fill="#4085f4" stroke="#3875e0" stroke-width="0.4"/><circle cx="338.0" cy="120.2" r="2.40" fill="#4380f4" stroke="#3a70e0" stroke-width="0.4"/><circle cx="338.0" cy="117.0" r="2.40" fill="#4183f4" stroke="#3973e0" stroke-width="0.4"/><circle cx="338.0" cy="123.4" r="2.40" fill="#4086f4" stroke="#3875e0" stroke-width="0.4"/><circle cx="342.0" cy="120.2" r="2.40" fill="#4184f4" stroke="#3974e0" stroke-width="0.4"/><circle cx="345.0" cy="120.2" r="2.40" fill="#4184f4" stroke="#3974e0" stroke-width="0.4"/><circle cx="348.0" cy="120.2" r="2.40" fill="#3c8bf5" stroke="#347ae1" stroke-width="0.4"/><circle cx="358.2" cy="120.2" r="2.40" fill="#477af3" stroke="#3e6bdf" stroke-width="0.4"/><circle cx="363.9" cy="120.2" r="2.40" fill="#5860f0" stroke="#4d54dc" stroke-width="0.4"/><circle cx="363.9" cy="117.0" r="2.40" fill="#5860f0" stroke="#4d54dc" stroke-width="0.4"/><circle cx="363.9" cy="123.4" r="2.40" fill="#7e3de2" stroke="#6e35cf" stroke-width="0.4"/><circle cx="366.3" cy="120.2" r="2.40" fill="#5565f1" stroke="#4a58dd" stroke-width="0.4"/><circle cx="366.3" cy="117.0" r="2.40" fill="#5565f1" stroke="#4a58dd" stroke-width="0.4"/><circle cx="366.3" cy="123.4" r="2.40" fill="#5565f1" stroke="#4a58dd" stroke-width="0.4"/><circle cx="368.7" cy="120.2" r="2.40" fill="#5860f0" stroke="#4d54dc" stroke-width="0.4"/><circle cx="368.7" cy="117.0" r="2.40" fill="#5860f0" stroke="#4d54dc" stroke-width="0.4"/><circle cx="370.6" cy="120.2" r="2.40" fill="#5565f1" stroke="#4a58dd" stroke-width="0.4"/><circle cx="370.6" cy="117.0" r="2.40" fill="#5565f1" stroke="#4a58dd" stroke-width="0.4"/><circle cx="370.6" cy="123.4" r="2.40" fill="#5565f1" stroke="#4a58dd" stroke-width="0.4"/><circle cx="372.4" cy="120.2" r="2.40" fill="#5860f0" stroke="#4d54dc" stroke-width="0.4"/><circle cx="372.4" cy="117.0" r="2.40" fill="#5860f0" stroke="#4d54dc" stroke-width="0.4"/><circle cx="372.4" cy="123.4" r="2.40" fill="#5860f0" stroke="#4d54dc" stroke-width="0.4"/><circle cx="379.5" cy="120.2" r="2.40" fill="#6157ec" stroke="#554cd9" stroke-width="0.4"/><circle cx="379.5" cy="117.0" r="2.40" fill="#6b4ee9" stroke="#5e44d6" stroke-width="0.4"/><circle cx="384.2" cy="120.2" r="2.40" fill="#7e3de2" stroke="#6e35cf" stroke-width="0.4"/><circle cx="396.6" cy="120.2" r="2.40" fill="#6157ec" stroke="#554cd9" stroke-width="0.4"/><circle cx="396.6" cy="117.0" r="2.40" fill="#8734de" stroke="#762dcc" stroke-width="0.4"/><circle cx="399.3" cy="120.2" r="2.40" fill="#e92067" stroke="#cd1c5e" stroke-width="0.4"/><circle cx="399.3" cy="117.0" r="2.40" fill="#e42172" stroke="#c81d68" stroke-width="0.4"/><circle cx="399.3" cy="123.4" r="2.40" fill="#e02279" stroke="#c51d6f" stroke-width="0.4"/><circle cx="401.9" cy="120.2" r="2.40" fill="#e92067" stroke="#cd1c5e" stroke-width="0.4"/><circle cx="401.9" cy="117.0" r="2.40" fill="#e02279" stroke="#c51d6f" stroke-width="0.4"/><circle cx="401.9" cy="113.8" r="2.40" fill="#7e3de2" stroke="#6e35cf" stroke-width="0.4"/><circle cx="401.9" cy="123.4" r="2.40" fill="#8734de" stroke="#762dcc" stroke-width="0.4"/><circle cx="404.5" cy="120.2" r="2.40" fill="#8734de" stroke="#762dcc" stroke-width="0.4"/><circle cx="404.5" cy="117.0" r="2.40" fill="#e02279" stroke="#c51d6f" stroke-width="0.4"/><circle cx="407.8" cy="120.2" r="2.40" fill="#6157ec" stroke="#554cd9" stroke-width="0.4"/><circle cx="407.8" cy="117.0" r="2.40" fill="#e92067" stroke="#cd1c5e" stroke-width="0.4"/><circle cx="410.4" cy="120.2" r="2.40" fill="#5860f0" stroke="#4d54dc" stroke-width="0.4"/><circle cx="410.4" cy="117.0" r="2.40" fill="#e92067" stroke="#cd1c5e" stroke-width="0.4"/><circle cx="413.0" cy="120.2" r="2.40" fill="#b426c8" stroke="#9e21b8" stroke-width="0.4"/><circle cx="413.0" cy="117.0" r="2.40" fill="#e92067" stroke="#cd1c5e" stroke-width="0.4"/><circle cx="413.0" cy="113.8" r="2.40" fill="#ed1f5f" stroke="#d01b57" stroke-width="0.4"/><circle cx="413.0" cy="123.4" r="2.40" fill="#e02279" stroke="#c51d6f" stroke-width="0.4"/><circle cx="415.8" cy="120.2" r="2.40" fill="#8734de" stroke="#762dcc" stroke-width="0.4"/><circle cx="415.8" cy="117.0" r="2.40" fill="#7e3de2" stroke="#6e35cf" stroke-width="0.4"/><circle cx="415.8" cy="123.4" r="2.40" fill="#b426c8" stroke="#9e21b8" stroke-width="0.4"/><circle cx="418.2" cy="120.2" r="2.40" fill="#8734de" stroke="#762dcc" stroke-width="0.4"/><circle cx="424.4" cy="120.2" r="2.40" fill="#9e2dd3" stroke="#8b27c2" stroke-width="0.4"/><circle cx="428.0" cy="120.2" r="2.40" fill="#9e2dd3" stroke="#8b27c2" stroke-width="0.4"/><circle cx="328.5" cy="149.4" r="2.40" fill="#477af3" stroke="#3e6bdf" stroke-width="0.4"/><circle cx="328.5" cy="146.5" r="2.40" fill="#4d72f2" stroke="#4364de" stroke-width="0.4"/><circle cx="331.5" cy="149.4" r="2.40" fill="#4381f4" stroke="#3a71e0" stroke-width="0.4"/><circle cx="334.3" cy="149.4" r="2.40" fill="#7e3de2" stroke="#6e35cf" stroke-width="0.4"/><circle cx="336.8" cy="149.4" r="2.40" fill="#4282f4" stroke="#3a72e0" stroke-width="0.4"/><circle cx="336.8" cy="146.5" r="2.40" fill="#4381f4" stroke="#3a71e0" stroke-width="0.4"/><circle cx="336.8" cy="152.3" r="2.40" fill="#4282f4" stroke="#3a72e0" stroke-width="0.4"/><circle cx="339.3" cy="149.4" r="2.40" fill="#477af3" stroke="#3e6bdf" stroke-width="0.4"/><circle cx="339.3" cy="146.5" r="2.40" fill="#4283f4" stroke="#3a73e0" stroke-width="0.4"/><circle cx="339.3" cy="152.3" r="2.40" fill="#4283f4" stroke="#3a73e0" stroke-width="0.4"/><circle cx="341.8" cy="149.4" r="2.40" fill="#477af3" stroke="#3e6bdf" stroke-width="0.4"/><circle cx="341.8" cy="146.5" r="2.40" fill="#7e3de2" stroke="#6e35cf" stroke-width="0.4"/><circle cx="341.8" cy="152.3" r="2.40" fill="#4283f4" stroke="#3a73e0" stroke-width="0.4"/><circle cx="341.8" cy="143.6" r="2.40" fill="#4283f4" stroke="#3a73e0" stroke-width="0.4"/><circle cx="341.8" cy="153.8" r="2.40" fill="#4283f4" stroke="#3a73e0" stroke-width="0.4"/><circle cx="344.3" cy="149.4" r="2.40" fill="#3f87f4" stroke="#3776e0" stroke-width="0.4"/><circle cx="344.3" cy="146.5" r="2.40" fill="#3f87f4" stroke="#3776e0" stroke-width="0.4"/><circle cx="344.3" cy="152.3" r="2.40" fill="#3d8bf5" stroke="#357ae1" stroke-width="0.4"/><circle cx="344.3" cy="143.6" r="2.40" fill="#4184f4" stroke="#3974e0" stroke-width="0.4"/><circle cx="344.3" cy="153.2" r="2.40" fill="#3c8bf5" stroke="#347ae1" stroke-width="0.4"/><circle cx="346.8" cy="149.4" r="2.40" fill="#4283f4" stroke="#3a73e0" stroke-width="0.4"/><circle cx="346.8" cy="146.5" r="2.40" fill="#4283f4" stroke="#3a73e0" stroke-width="0.4"/><circle cx="346.8" cy="152.3" r="2.40" fill="#7e3de2" stroke="#6e35cf" stroke-width="0.4"/><circle cx="346.8" cy="143.6" r="2.40" fill="#4283f4" stroke="#3a73e0" stroke-width="0.4"/><circle cx="346.8" cy="153.2" r="2.40" fill="#4283f4" stroke="#3a73e0" stroke-width="0.4"/><circle cx="349.3" cy="149.4" r="2.40" fill="#3d8bf5" stroke="#357ae1" stroke-width="0.4"/><circle cx="349.3" cy="146.5" r="2.40" fill="#3e89f5" stroke="#3678e1" stroke-width="0.4"/><circle cx="349.3" cy="152.3" r="2.40" fill="#3d8af5" stroke="#3579e1" stroke-width="0.4"/><circle cx="349.3" cy="156.1" r="2.40" fill="#3f88f5" stroke="#3777e1" stroke-width="0.4"/><circle cx="351.8" cy="149.4" r="2.40" fill="#4283f4" stroke="#3a73e0" stroke-width="0.4"/><circle cx="351.8" cy="146.5" r="2.40" fill="#4283f4" stroke="#3a73e0" stroke-width="0.4"/><circle cx="351.8" cy="152.3" r="2.40" fill="#7446e5" stroke="#663dd2" stroke-width="0.4"/><circle cx="351.8" cy="155.2" r="2.40" fill="#4283f4" stroke="#3a73e0" stroke-width="0.4"/><circle cx="354.3" cy="149.4" r="2.40" fill="#3c8bf5" stroke="#347ae1" stroke-width="0.4"/><circle cx="354.3" cy="146.5" r="2.40" fill="#3c8cf5" stroke="#347be1" stroke-width="0.4"/><circle cx="354.3" cy="152.3" r="2.40" fill="#3d8af5" stroke="#3579e1" stroke-width="0.4"/><circle cx="357.0" cy="149.4" r="2.40" fill="#7e3de2" stroke="#6e35cf" stroke-width="0.4"/><circle cx="357.0" cy="146.5" r="2.40" fill="#4283f4" stroke="#3a73e0" stroke-width="0.4"/><circle cx="357.0" cy="152.3" r="2.40" fill="#4283f4" stroke="#3a73e0" stroke-width="0.4"/><circle cx="360.0" cy="149.4" r="2.40" fill="#3d8bf5" stroke="#357ae1" stroke-width="0.4"/><circle cx="360.0" cy="146.5" r="2.40" fill="#3f88f4" stroke="#3777e0" stroke-width="0.4"/><circle cx="360.0" cy="152.3" r="2.40" fill="#3c8cf5" stroke="#347be1" stroke-width="0.4"/><circle cx="362.5" cy="149.4" r="2.40" fill="#4283f4" stroke="#3a73e0" stroke-width="0.4"/><circle cx="362.5" cy="146.5" r="2.40" fill="#4283f4" stroke="#3a73e0" stroke-width="0.4"/><circle cx="362.5" cy="153.2" r="2.40" fill="#477af3" stroke="#3e6bdf" stroke-width="0.4"/><circle cx="365.3" cy="149.4" r="2.40" fill="#9230d8" stroke="#802ac6" stroke-width="0.4"/><circle cx="365.3" cy="146.5" r="2.40" fill="#477af3" stroke="#3e6bdf" stroke-width="0.4"/><circle cx="365.3" cy="152.3" r="2.40" fill="#477af3" stroke="#3e6bdf" stroke-width="0.4"/><circle cx="365.3" cy="143.6" r="2.40" fill="#7e3de2" stroke="#6e35cf" stroke-width="0.4"/><circle cx="368.0" cy="149.4" r="2.40" fill="#477af3" stroke="#3e6bdf" stroke-width="0.4"/><circle cx="368.0" cy="146.5" r="2.40" fill="#477af3" stroke="#3e6bdf" stroke-width="0.4"/><circle cx="371.0" cy="149.4" r="2.40" fill="#477af3" stroke="#3e6bdf" stroke-width="0.4"/><circle cx="371.0" cy="146.5" r="2.40" fill="#8734de" stroke="#762dcc" stroke-width="0.4"/><circle cx="373.5" cy="149.4" r="2.40" fill="#477af3" stroke="#3e6bdf" stroke-width="0.4"/><circle cx="378.4" cy="149.4" r="2.40" fill="#4283f4" stroke="#3a73e0" stroke-width="0.4"/><circle cx="383.2" cy="149.4" r="2.40" fill="#4283f4" stroke="#3a73e0" stroke-width="0.4"/><circle cx="386.9" cy="149.4" r="2.40" fill="#4283f4" stroke="#3a73e0" stroke-width="0.4"/><circle cx="391.2" cy="149.4" r="2.40" fill="#4085f4" stroke="#3875e0" stroke-width="0.4"/><circle cx="391.2" cy="146.5" r="2.40" fill="#4085f4" stroke="#3875e0" stroke-width="0.4"/><circle cx="400.3" cy="149.4" r="2.40" fill="#4085f4" stroke="#3875e0" stroke-width="0.4"/><circle cx="400.3" cy="146.5" r="2.40" fill="#4085f4" stroke="#3875e0" stroke-width="0.4"/><circle cx="404.4" cy="149.4" r="2.40" fill="#9e2dd3" stroke="#8b27c2" stroke-width="0.4"/><circle cx="407.5" cy="149.4" r="2.40" fill="#cb25a0" stroke="#b22093" stroke-width="0.4"/><circle cx="410.3" cy="149.4" r="2.40" fill="#d7248c" stroke="#bd1f80" stroke-width="0.4"/><circle cx="413.0" cy="149.4" r="2.40" fill="#a929ce" stroke="#9424bd" stroke-width="0.4"/><circle cx="415.5" cy="149.4" r="2.40" fill="#e92067" stroke="#cd1c5e" stroke-width="0.4"/><circle cx="415.5" cy="146.5" r="2.40" fill="#e92067" stroke="#cd1c5e" stroke-width="0.4"/><circle cx="417.8" cy="149.4" r="2.40" fill="#e92067" stroke="#cd1c5e" stroke-width="0.4"/><circle cx="417.8" cy="146.5" r="2.40" fill="#e02279" stroke="#c51d6f" stroke-width="0.4"/><circle cx="417.8" cy="152.3" r="2.40" fill="#7e3de2" stroke="#6e35cf" stroke-width="0.4"/><circle cx="420.3" cy="149.4" r="2.40" fill="#e02279" stroke="#c51d6f" stroke-width="0.4"/><circle cx="420.3" cy="146.5" r="2.40" fill="#c025b4" stroke="#a820a5" stroke-width="0.4"/><circle cx="422.5" cy="149.4" r="2.40" fill="#b426c8" stroke="#9e21b8" stroke-width="0.4"/><circle cx="422.5" cy="146.5" r="2.40" fill="#e92067" stroke="#cd1c5e" stroke-width="0.4"/><circle cx="424.5" cy="149.4" r="2.40" fill="#c025b4" stroke="#a820a5" stroke-width="0.4"/><circle cx="424.5" cy="146.5" r="2.40" fill="#d7248c" stroke="#bd1f80" stroke-width="0.4"/><circle cx="424.5" cy="143.6" r="2.40" fill="#7e3de2" stroke="#6e35cf" stroke-width="0.4"/><circle cx="424.5" cy="152.3" r="2.40" fill="#8734de" stroke="#762dcc" stroke-width="0.4"/><circle cx="427.0" cy="149.4" r="2.40" fill="#e92067" stroke="#cd1c5e" stroke-width="0.4"/><circle cx="427.0" cy="146.5" r="2.40" fill="#e92067" stroke="#cd1c5e" stroke-width="0.4"/><circle cx="429.5" cy="149.4" r="2.40" fill="#ed1f5f" stroke="#d01b57" stroke-width="0.4"/><circle cx="432.0" cy="149.4" r="2.40" fill="#e92067" stroke="#cd1c5e" stroke-width="0.4"/><circle cx="432.0" cy="146.5" r="2.40" fill="#8734de" stroke="#762dcc" stroke-width="0.4"/><circle cx="440.0" cy="149.4" r="2.40" fill="#d7248c" stroke="#bd1f80" stroke-width="0.4"/><circle cx="442.7" cy="149.4" r="2.40" fill="#e02279" stroke="#c51d6f" stroke-width="0.4"/><circle cx="368.7" cy="188.1" r="2.40" fill="#3c8cf5" stroke="#3c8cf5" stroke-width="0.4"/><circle cx="368.7" cy="187.3" r="2.40" fill="#3c8cf5" stroke="#3c8cf5" stroke-width="0.4"/><circle cx="368.7" cy="186.6" r="2.40" fill="#3c8cf5" stroke="#3c8cf5" stroke-width="0.4"/><circle cx="368.7" cy="185.8" r="2.40" fill="#3c8cf5" stroke="#3c8cf5" stroke-width="0.4"/><circle cx="368.7" cy="185.1" r="2.40" fill="#3c8cf5" stroke="#3c8cf5" stroke-width="0.4"/><circle cx="368.7" cy="184.3" r="2.40" fill="#3c8cf5" stroke="#3c8cf5" stroke-width="0.4"/><circle cx="368.7" cy="183.6" r="2.40" fill="#3c8cf5" stroke="#3c8cf5" stroke-width="0.4"/><circle cx="368.7" cy="182.8" r="2.40" fill="#3c8cf5" stroke="#3c8cf5" stroke-width="0.4"/><circle cx="368.7" cy="182.1" r="2.40" fill="#3c8cf5" stroke="#3c8cf5" stroke-width="0.4"/><circle cx="368.7" cy="181.3" r="2.40" fill="#3c8cf5" stroke="#3c8cf5" stroke-width="0.4"/><circle cx="368.7" cy="180.6" r="2.40" fill="#3c8cf5" stroke="#3c8cf5" stroke-width="0.4"/><circle cx="368.7" cy="179.8" r="2.40" fill="#3c8cf5" stroke="#3c8cf5" stroke-width="0.4"/><circle cx="368.7" cy="179.1" r="2.40" fill="#3c8cf5" stroke="#3c8cf5" stroke-width="0.4"/><circle cx="368.7" cy="178.3" r="2.40" fill="#3c8cf5" stroke="#3c8cf5" stroke-width="0.4"/><circle cx="368.7" cy="177.6" r="2.40" fill="#3c8cf5" stroke="#3c8cf5" stroke-width="0.4"/><circle cx="368.7" cy="176.8" r="2.40" fill="#3c8cf5" stroke="#3c8cf5" stroke-width="0.4"/><circle cx="368.7" cy="176.1" r="2.40" fill="#3c8cf5" stroke="#3c8cf5" stroke-width="0.4"/><circle cx="368.7" cy="175.3" r="2.40" fill="#3c8cf5" stroke="#3c8cf5" stroke-width="0.4"/><circle cx="368.7" cy="174.6" r="2.40" fill="#3c8cf5" stroke="#3c8cf5" stroke-width="0.4"/><circle cx="368.7" cy="173.8" r="2.40" fill="#3c8cf5" stroke="#3c8cf5" stroke-width="0.4"/><circle cx="368.7" cy="173.1" r="2.40" fill="#3c8cf5" stroke="#3c8cf5" stroke-width="0.4"/><circle cx="368.7" cy="172.3" r="2.40" fill="#3c8cf5" stroke="#3c8cf5" stroke-width="0.4"/><circle cx="368.7" cy="171.6" r="2.40" fill="#3c8cf5" stroke="#3c8cf5" stroke-width="0.4"/><circle cx="368.7" cy="170.8" r="2.40" fill="#3c8cf5" stroke="#3c8cf5" stroke-width="0.4"/><circle cx="368.7" cy="170.1" r="2.40" fill="#3c8cf5" stroke="#3c8cf5" stroke-width="0.4"/><circle cx="369.3" cy="188.1" r="2.40" fill="#3c8cf5" stroke="#3c8cf5" stroke-width="0.4"/><circle cx="369.3" cy="187.3" r="2.40" fill="#3c8cf5" stroke="#3c8cf5" stroke-width="0.4"/><circle cx="369.3" cy="186.6" r="2.40" fill="#3c8cf5" stroke="#3c8cf5" stroke-width="0.4"/><circle cx="369.3" cy="185.8" r="2.40" fill="#3c8cf5" stroke="#3c8cf5" stroke-width="0.4"/><circle cx="369.3" cy="185.1" r="2.40" fill="#3c8cf5" stroke="#3c8cf5" stroke-width="0.4"/><circle cx="369.3" cy="184.3" r="2.40" fill="#3c8cf5" stroke="#3c8cf5" stroke-width="0.4"/><circle cx="369.3" cy="183.6" r="2.40" fill="#3c8cf5" stroke="#3c8cf5" stroke-width="0.4"/><circle cx="369.3" cy="182.8" r="2.40" fill="#3c8cf5" stroke="#3c8cf5" stroke-width="0.4"/><circle cx="369.3" cy="182.1" r="2.40" fill="#3c8cf5" stroke="#3c8cf5" stroke-width="0.4"/><circle cx="369.3" cy="181.3" r="2.40" fill="#3c8cf5" stroke="#3c8cf5" stroke-width="0.4"/><circle cx="369.3" cy="180.6" r="2.40" fill="#3c8cf5" stroke="#3c8cf5" stroke-width="0.4"/><circle cx="369.3" cy="179.8" r="2.40" fill="#3c8cf5" stroke="#3c8cf5" stroke-width="0.4"/><circle cx="369.3" cy="179.1" r="2.40" fill="#3c8cf5" stroke="#3c8cf5" stroke-width="0.4"/><circle cx="369.3" cy="178.3" r="2.40" fill="#3c8cf5" stroke="#3c8cf5" stroke-width="0.4"/><circle cx="369.3" cy="177.6" r="2.40" fill="#3c8cf5" stroke="#3c8cf5" stroke-width="0.4"/><circle cx="369.3" cy="176.8" r="2.40" fill="#3c8cf5" stroke="#3c8cf5" stroke-width="0.4"/><circle cx="369.3" cy="176.1" r="2.40" fill="#3c8cf5" stroke="#3c8cf5" stroke-width="0.4"/><circle cx="369.3" cy="175.3" r="2.40" fill="#3c8cf5" stroke="#3c8cf5" stroke-width="0.4"/><circle cx="369.3" cy="174.6" r="2.40" fill="#3c8cf5" stroke="#3c8cf5" stroke-width="0.4"/><circle cx="369.3" cy="173.8" r="2.40" fill="#3c8cf5" stroke="#3c8cf5" stroke-width="0.4"/><circle cx="369.3" cy="173.1" r="2.40" fill="#3c8cf5" stroke="#3c8cf5" stroke-width="0.4"/><circle cx="369.3" cy="172.3" r="2.40" fill="#3c8cf5" stroke="#3c8cf5" stroke-width="0.4"/><circle cx="369.3" cy="171.6" r="2.40" fill="#3c8cf5" stroke="#3c8cf5" stroke-width="0.4"/><circle cx="369.3" cy="170.8" r="2.40" fill="#3c8cf5" stroke="#3c8cf5" stroke-width="0.4"/><circle cx="369.3" cy="170.1" r="2.40" fill="#3c8cf5" stroke="#3c8cf5" stroke-width="0.4"/><circle cx="369.9" cy="188.1" r="2.40" fill="#3c8cf5" stroke="#3c8cf5" stroke-width="0.4"/><circle cx="369.9" cy="187.3" r="2.40" fill="#3c8cf5" stroke="#3c8cf5" stroke-width="0.4"/><circle cx="369.9" cy="186.6" r="2.40" fill="#3c8cf5" stroke="#3c8cf5" stroke-width="0.4"/><circle cx="369.9" cy="185.8" r="2.40" fill="#3c8cf5" stroke="#3c8cf5" stroke-width="0.4"/><circle cx="369.9" cy="185.1" r="2.40" fill="#3c8cf5" stroke="#3c8cf5" stroke-width="0.4"/><circle cx="369.9" cy="184.3" r="2.40" fill="#3c8cf5" stroke="#3c8cf5" stroke-width="0.4"/><circle cx="369.9" cy="183.6" r="2.40" fill="#3c8cf5" stroke="#3c8cf5" stroke-width="0.4"/><circle cx="369.9" cy="182.8" r="2.40" fill="#3c8cf5" stroke="#3c8cf5" stroke-width="0.4"/><circle cx="369.9" cy="182.1" r="2.40" fill="#3c8cf5" stroke="#3c8cf5" stroke-width="0.4"/><circle cx="369.9" cy="181.3" r="2.40" fill="#3c8cf5" stroke="#3c8cf5" stroke-width="0.4"/><circle cx="369.9" cy="180.6" r="2.40" fill="#3c8cf5" stroke="#3c8cf5" stroke-width="0.4"/><circle cx="369.9" cy="179.8" r="2.40" fill="#3c8cf5" stroke="#3c8cf5" stroke-width="0.4"/><circle cx="369.9" cy="179.1" r="2.40" fill="#3c8cf5" stroke="#3c8cf5" stroke-width="0.4"/><circle cx="369.9" cy="178.3" r="2.40" fill="#3c8cf5" stroke="#3c8cf5" stroke-width="0.4"/><circle cx="369.9" cy="177.6" r="2.40" fill="#3c8cf5" stroke="#3c8cf5" stroke-width="0.4"/><circle cx="369.9" cy="176.8" r="2.40" fill="#3c8cf5" stroke="#3c8cf5" stroke-width="0.4"/><circle cx="369.9" cy="176.1" r="2.40" fill="#3c8cf5" stroke="#3c8cf5" stroke-width="0.4"/><circle cx="369.9" cy="175.3" r="2.40" fill="#3c8cf5" stroke="#3c8cf5" stroke-width="0.4"/><circle cx="369.9" cy="174.6" r="2.40" fill="#3c8cf5" stroke="#3c8cf5" stroke-width="0.4"/><circle cx="369.9" cy="173.8" r="2.40" fill="#3c8cf5" stroke="#3c8cf5" stroke-width="0.4"/><circle cx="369.9" cy="173.1" r="2.40" fill="#3c8cf5" stroke="#3c8cf5" stroke-width="0.4"/><circle cx="369.9" cy="172.3" r="2.40" fill="#3c8cf5" stroke="#3c8cf5" stroke-width="0.4"/><circle cx="369.9" cy="171.6" r="2.40" fill="#3c8cf5" stroke="#3c8cf5" stroke-width="0.4"/><circle cx="369.9" cy="170.8" r="2.40" fill="#3c8cf5" stroke="#3c8cf5" stroke-width="0.4"/><circle cx="369.9" cy="170.1" r="2.40" fill="#3c8cf5" stroke="#3c8cf5" stroke-width="0.4"/><circle cx="370.5" cy="188.1" r="2.40" fill="#3c8cf5" stroke="#3c8cf5" stroke-width="0.4"/><circle cx="370.5" cy="187.3" r="2.40" fill="#3c8cf5" stroke="#3c8cf5" stroke-width="0.4"/><circle cx="370.5" cy="186.6" r="2.40" fill="#3c8cf5" stroke="#3c8cf5" stroke-width="0.4"/><circle cx="370.5" cy="185.8" r="2.40" fill="#3c8cf5" stroke="#3c8cf5" stroke-width="0.4"/><circle cx="370.5" cy="185.1" r="2.40" fill="#3c8cf5" stroke="#3c8cf5" stroke-width="0.4"/><circle cx="370.5" cy="184.3" r="2.40" fill="#3c8cf5" stroke="#3c8cf5" stroke-width="0.4"/><circle cx="370.5" cy="183.6" r="2.40" fill="#3c8cf5" stroke="#3c8cf5" stroke-width="0.4"/><circle cx="370.5" cy="182.8" r="2.40" fill="#3c8cf5" stroke="#3c8cf5" stroke-width="0.4"/><circle cx="370.5" cy="182.1" r="2.40" fill="#3c8cf5" stroke="#3c8cf5" stroke-width="0.4"/><circle cx="370.5" cy="181.3" r="2.40" fill="#3c8cf5" stroke="#3c8cf5" stroke-width="0.4"/><circle cx="370.5" cy="180.6" r="2.40" fill="#3c8cf5" stroke="#3c8cf5" stroke-width="0.4"/><circle cx="370.5" cy="179.8" r="2.40" fill="#3c8cf5" stroke="#3c8cf5" stroke-width="0.4"/><circle cx="370.5" cy="179.1" r="2.40" fill="#3c8cf5" stroke="#3c8cf5" stroke-width="0.4"/><circle cx="370.5" cy="178.3" r="2.40" fill="#3c8cf5" stroke="#3c8cf5" stroke-width="0.4"/><circle cx="370.5" cy="177.6" r="2.40" fill="#3c8cf5" stroke="#3c8cf5" stroke-width="0.4"/><circle cx="370.5" cy="176.8" r="2.40" fill="#3c8cf5" stroke="#3c8cf5" stroke-width="0.4"/><circle cx="370.5" cy="176.1" r="2.40" fill="#3c8cf5" stroke="#3c8cf5" stroke-width="0.4"/><circle cx="370.5" cy="175.3" r="2.40" fill="#3c8cf5" stroke="#3c8cf5" stroke-width="0.4"/><circle cx="370.5" cy="174.6" r="2.40" fill="#3c8cf5" stroke="#3c8cf5" stroke-width="0.4"/><circle cx="370.5" cy="173.8" r="2.40" fill="#3c8cf5" stroke="#3c8cf5" stroke-width="0.4"/><circle cx="370.5" cy="173.1" r="2.40" fill="#3c8cf5" stroke="#3c8cf5" stroke-width="0.4"/><circle cx="370.5" cy="172.3" r="2.40" fill="#3c8cf5" stroke="#3c8cf5" stroke-width="0.4"/><circle cx="370.5" cy="171.6" r="2.40" fill="#3c8cf5" stroke="#3c8cf5" stroke-width="0.4"/><circle cx="370.5" cy="170.8" r="2.40" fill="#3c8cf5" stroke="#3c8cf5" stroke-width="0.4"/><circle cx="370.5" cy="170.1" r="2.40" fill="#3c8cf5" stroke="#3c8cf5" stroke-width="0.4"/><circle cx="371.1" cy="188.1" r="2.40" fill="#3c8cf5" stroke="#3c8cf5" stroke-width="0.4"/><circle cx="371.1" cy="187.3" r="2.40" fill="#3c8cf5" stroke="#3c8cf5" stroke-width="0.4"/><circle cx="371.1" cy="186.6" r="2.40" fill="#3c8cf5" stroke="#3c8cf5" stroke-width="0.4"/><circle cx="371.1" cy="185.8" r="2.40" fill="#3c8cf5" stroke="#3c8cf5" stroke-width="0.4"/><circle cx="371.1" cy="185.1" r="2.40" fill="#3c8cf5" stroke="#3c8cf5" stroke-width="0.4"/><circle cx="371.1" cy="184.3" r="2.40" fill="#3c8cf5" stroke="#3c8cf5" stroke-width="0.4"/><circle cx="371.1" cy="183.6" r="2.40" fill="#3c8cf5" stroke="#3c8cf5" stroke-width="0.4"/><circle cx="371.1" cy="182.8" r="2.40" fill="#3c8cf5" stroke="#3c8cf5" stroke-width="0.4"/><circle cx="371.1" cy="182.1" r="2.40" fill="#3c8cf5" stroke="#3c8cf5" stroke-width="0.4"/><circle cx="371.1" cy="181.3" r="2.40" fill="#3c8cf5" stroke="#3c8cf5" stroke-width="0.4"/><circle cx="371.1" cy="180.6" r="2.40" fill="#3c8cf5" stroke="#3c8cf5" stroke-width="0.4"/><circle cx="371.1" cy="179.8" r="2.40" fill="#3c8cf5" stroke="#3c8cf5" stroke-width="0.4"/><circle cx="371.1" cy="179.1" r="2.40" fill="#3c8cf5" stroke="#3c8cf5" stroke-width="0.4"/><circle cx="371.1" cy="178.3" r="2.40" fill="#3c8cf5" stroke="#3c8cf5" stroke-width="0.4"/><circle cx="371.1" cy="177.6" r="2.40" fill="#3c8cf5" stroke="#3c8cf5" stroke-width="0.4"/><circle cx="371.1" cy="176.8" r="2.40" fill="#3c8cf5" stroke="#3c8cf5" stroke-width="0.4"/><circle cx="371.1" cy="176.1" r="2.40" fill="#3c8cf5" stroke="#3c8cf5" stroke-width="0.4"/><circle cx="371.1" cy="175.3" r="2.40" fill="#3c8cf5" stroke="#3c8cf5" stroke-width="0.4"/><circle cx="371.1" cy="174.6" r="2.40" fill="#3c8cf5" stroke="#3c8cf5" stroke-width="0.4"/><circle cx="371.1" cy="173.8" r="2.40" fill="#3c8cf5" stroke="#3c8cf5" stroke-width="0.4"/><circle cx="371.1" cy="173.1" r="2.40" fill="#3c8cf5" stroke="#3c8cf5" stroke-width="0.4"/><circle cx="371.1" cy="172.3" r="2.40" fill="#3c8cf5" stroke="#3c8cf5" stroke-width="0.4"/><circle cx="371.1" cy="171.6" r="2.40" fill="#3c8cf5" stroke="#3c8cf5" stroke-width="0.4"/><circle cx="371.1" cy="170.8" r="2.40" fill="#3c8cf5" stroke="#3c8cf5" stroke-width="0.4"/><circle cx="371.1" cy="170.1" r="2.40" fill="#3c8cf5" stroke="#3c8cf5" stroke-width="0.4"/><circle cx="378.0" cy="179.1" r="2.40" fill="#ed1f5f" stroke="#ed1f5f" stroke-width="0.4"/><circle cx="383.0" cy="179.1" r="2.40" fill="#ed1f5f" stroke="#ed1f5f" stroke-width="0.4"/><circle cx="388.0" cy="178.3" r="2.40" fill="#ed1f5f" stroke="#ed1f5f" stroke-width="0.4"/><circle cx="388.0" cy="179.9" r="2.40" fill="#ed1f5f" stroke="#ed1f5f" stroke-width="0.4"/><circle cx="392.8" cy="179.1" r="2.40" fill="#ed1f5f" stroke="#ed1f5f" stroke-width="0.4"/></g>
<line x1="264.8" y1="209.3" x2="579.3" y2="209.3" stroke="#333" stroke-width="1.2"/>
<line x1="302.8" y1="209.3" x2="302.8" y2="213.9" stroke="#333" stroke-width="1.2"/>
<text x="302.8" y="227.8" font-size="13.8" text-anchor="middle" fill="#333">−0.5</text>
<line x1="372.2" y1="209.3" x2="372.2" y2="213.9" stroke="#333" stroke-width="1.2"/>
<text x="372.2" y="227.8" font-size="13.8" text-anchor="middle" fill="#333">0.0</text>
<line x1="441.6" y1="209.3" x2="441.6" y2="213.9" stroke="#333" stroke-width="1.2"/>
<text x="441.6" y="227.8" font-size="13.8" text-anchor="middle" fill="#333">0.5</text>
<line x1="511.0" y1="209.3" x2="511.0" y2="213.9" stroke="#333" stroke-width="1.2"/>
<text x="511.0" y="227.8" font-size="13.8" text-anchor="middle" fill="#333">1.0</text>
<text x="240.6" y="36.8" font-size="16.75" text-anchor="end" fill="#303030">NIHSS at admission</text>
<text x="240.6" y="65.5" font-size="16.75" text-anchor="end" fill="#303030">Monocyte</text>
<text x="240.6" y="94.5" font-size="16.75" text-anchor="end" fill="#303030">Time from onset to CT</text>
<text x="240.6" y="123.3" font-size="16.75" text-anchor="end" fill="#303030">Baseline blood glucose</text>
<text x="240.6" y="152.5" font-size="16.75" text-anchor="end" fill="#303030">Neutrophil to lymphocyte ratio</text>
<text x="240.6" y="181.1" font-size="16.75" text-anchor="end" fill="#303030">History of atrial fibrillation</text>
<text x="293.6" y="248.4" font-size="16.75" fill="#222">SHAP value (impact on model output)</text>
<text x="363.9" y="269.8" font-size="17.2" fill="#222">(a)</text>
<rect x="595.6" y="38.7" width="2.6" height="154.4" fill="url(#cb)"/>
<text x="585.4" y="33.9" font-size="16.9" fill="#222">High</text>
<text x="587.0" y="211.9" font-size="16.9" fill="#222">Low</text>
<text transform="translate(632.7,116.8) rotate(-90)" x="0" y="0" font-size="16.7" text-anchor="middle" fill="#222">Feature value</text>
<line x1="160" y1="315.7" x2="683" y2="315.7" stroke="#f2f2f2" stroke-width="0.8" stroke-dasharray="0.8 3.2"/>
<line x1="160" y1="337.5" x2="683" y2="337.5" stroke="#f2f2f2" stroke-width="0.8" stroke-dasharray="0.8 3.2"/>
<line x1="160" y1="359.2" x2="683" y2="359.2" stroke="#f2f2f2" stroke-width="0.8" stroke-dasharray="0.8 3.2"/>
<line x1="160" y1="381.0" x2="683" y2="381.0" stroke="#f2f2f2" stroke-width="0.8" stroke-dasharray="0.8 3.2"/>
<line x1="160" y1="402.7" x2="683" y2="402.7" stroke="#f2f2f2" stroke-width="0.8" stroke-dasharray="0.8 3.2"/>
<line x1="160" y1="424.5" x2="683" y2="424.5" stroke="#f2f2f2" stroke-width="0.8" stroke-dasharray="0.8 3.2"/>
<rect x="160" y="308.5" width="474.4" height="14.4" fill="#f47dae"/>
<text x="637.2" y="318.8" font-size="11.8" letter-spacing="-0.3" fill="#cf3b7b" stroke="#cf3b7b" stroke-width="0.3">+0.49</text>
<text x="154.9" y="320.0" font-size="12.45" text-anchor="end" fill="#303030">NIHSS at admission</text>
<rect x="160" y="330.3" width="407.0" height="14.4" fill="#f47dae"/>
<text x="569.8" y="340.6" font-size="11.8" letter-spacing="-0.3" fill="#cf3b7b" stroke="#cf3b7b" stroke-width="0.3">+0.42</text>
<text x="154.9" y="341.8" font-size="12.45" text-anchor="end" fill="#303030">Monocyte</text>
<rect x="160" y="352.0" width="242.0" height="14.4" fill="#f47dae"/>
<text x="404.8" y="362.3" font-size="11.8" letter-spacing="-0.3" fill="#cf3b7b" stroke="#cf3b7b" stroke-width="0.3">+0.25</text>
<text x="154.9" y="363.5" font-size="12.45" text-anchor="end" fill="#303030">Time from onset to CT</text>
<rect x="160" y="373.8" width="240.2" height="14.4" fill="#f47dae"/>
<text x="403.0" y="384.1" font-size="11.8" letter-spacing="-0.3" fill="#cf3b7b" stroke="#cf3b7b" stroke-width="0.3">+0.25</text>
<text x="154.9" y="385.3" font-size="12.45" text-anchor="end" fill="#303030">Baseline blood glucose</text>
<rect x="160" y="395.5" width="191.7" height="14.4" fill="#f47dae"/>
<text x="354.5" y="405.8" font-size="11.8" letter-spacing="-0.3" fill="#cf3b7b" stroke="#cf3b7b" stroke-width="0.3">+0.2</text>
<text x="154.9" y="407.0" font-size="12.45" text-anchor="end" fill="#303030">Neutrophil to lymphocyte ratio</text>
<rect x="160" y="417.3" width="25.6" height="14.4" fill="#f47dae"/>
<text x="188.4" y="427.6" font-size="11.8" letter-spacing="-0.3" fill="#cf3b7b" stroke="#cf3b7b" stroke-width="0.3">+0.03</text>
<text x="154.9" y="428.8" font-size="12.45" text-anchor="end" fill="#303030">History of atrial fibrillation</text>
<line x1="159.7" y1="302" x2="159.7" y2="438.8" stroke="#555" stroke-width="1"/>
<line x1="159.2" y1="438.6" x2="683.6" y2="438.6" stroke="#555" stroke-width="1"/>
<line x1="160.0" y1="438.6" x2="160.0" y2="441.2" stroke="#555" stroke-width="0.8"/>
<text x="160.0" y="448.7" font-size="7.3" text-anchor="middle" fill="#333">0.0</text>
<line x1="256.8" y1="438.6" x2="256.8" y2="441.2" stroke="#555" stroke-width="0.8"/>
<text x="256.8" y="448.7" font-size="7.3" text-anchor="middle" fill="#333">0.1</text>
<line x1="353.7" y1="438.6" x2="353.7" y2="441.2" stroke="#555" stroke-width="0.8"/>
<text x="353.7" y="448.7" font-size="7.3" text-anchor="middle" fill="#333">0.2</text>
<line x1="450.5" y1="438.6" x2="450.5" y2="441.2" stroke="#555" stroke-width="0.8"/>
<text x="450.5" y="448.7" font-size="7.3" text-anchor="middle" fill="#333">0.3</text>
<line x1="547.4" y1="438.6" x2="547.4" y2="441.2" stroke="#555" stroke-width="0.8"/>
<text x="547.4" y="448.7" font-size="7.3" text-anchor="middle" fill="#333">0.4</text>
<line x1="644.2" y1="438.6" x2="644.2" y2="441.2" stroke="#555" stroke-width="0.8"/>
<text x="644.2" y="448.7" font-size="7.3" text-anchor="middle" fill="#333">0.5</text>
<text x="365.7" y="462.6" font-size="13.6" fill="#222">mean(|SHAP value|)</text>
<text x="367.0" y="482.3" font-size="17.2" fill="#222">(b)</text>
</g>
</svg>
</body></html>
